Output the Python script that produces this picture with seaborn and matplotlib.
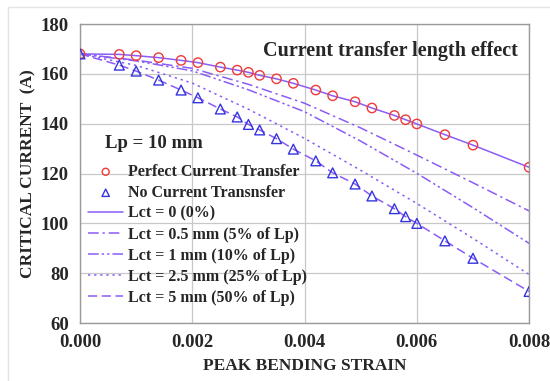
import matplotlib
matplotlib.use("Agg")
import matplotlib.pyplot as plt
import seaborn as sns
import numpy as np
from matplotlib.patches import Rectangle

# measured points (markers)
strain_pts = [0.0, 0.0007, 0.001, 0.0014, 0.0018, 0.0021, 0.0025, 0.0028, 0.003, 0.0032, 0.0035,
              0.0038, 0.0042, 0.0045, 0.0049, 0.0052, 0.0056, 0.0058, 0.006, 0.0065, 0.007, 0.008]
perfect = [168.0, 167.8, 167.3, 166.5, 165.4, 164.5, 162.7, 161.5, 160.6, 159.4, 158.0,
           156.2, 153.5, 151.2, 148.8, 146.3, 143.3, 141.6, 139.9, 135.6, 131.4, 122.5]
no_transfer = [168.0, 163.5, 161.1, 157.5, 153.5, 150.4, 145.9, 142.7, 139.7, 137.5, 134.0,
               129.8, 125.1, 120.3, 115.8, 111.0, 105.9, 102.7, 100.0, 93.0, 86.0, 72.7]

# model curves for intermediate transfer lengths
strain_grid = [0.0, 0.001, 0.002, 0.003, 0.004, 0.005, 0.006, 0.007, 0.008]
lct_05 = [168.0, 165.5, 162.2, 155.8, 148.2, 138.3, 127.4, 116.3, 105.0]
lct_1 = [168.0, 165.2, 161.2, 153.6, 144.8, 133.0, 120.1, 106.3, 92.0]
lct_25 = [168.0, 163.4, 156.3, 145.8, 134.1, 121.3, 108.0, 94.0, 79.5]

labels = ["Lct = 0 (0%)", "Lct = 0.5 mm (5% of Lp)", "Lct = 1 mm (10% of Lp)",
          "Lct = 2.5 mm (25% of Lp)", "Lct = 5 mm (50% of Lp)"]

sns.set_style("white")
plt.rcParams['font.family'] = ['Liberation Serif', 'DejaVu Serif']
plt.rcParams['font.weight'] = 'bold'

line_c = '#8b5cf6'
fig = plt.figure(figsize=(5.5, 3.81), dpi=100)
ax = fig.add_axes([0.1455, 0.152, 0.8165, 0.785])

# lines
sns.lineplot(x=strain_pts, y=perfect, ax=ax, color=line_c, lw=1.1, linestyle='-', label=labels[0])
sns.lineplot(x=strain_grid, y=lct_05, ax=ax, color=line_c, lw=1.1,
             linestyle=(0, (7, 2.5, 1.5, 2.5)), label=labels[1])
sns.lineplot(x=strain_grid, y=lct_1, ax=ax, color=line_c, lw=1.1,
             linestyle=(0, (7, 2, 1.5, 2, 1.5, 2)), label=labels[2])
sns.lineplot(x=strain_grid, y=lct_25, ax=ax, color=line_c, lw=1.1,
             linestyle=(0, (1.5, 2.5)), label=labels[3])
sns.lineplot(x=strain_pts, y=no_transfer, ax=ax, color=line_c, lw=1.1,
             linestyle=(0, (6, 3)), label=labels[4])

# markers
sns.scatterplot(x=strain_pts, y=perfect, ax=ax, marker='o', s=45, facecolor='none',
                edgecolor='#f03a3a', linewidth=1.0, label='Perfect Current Transfer', zorder=5)
sns.scatterplot(x=strain_pts, y=no_transfer, ax=ax, marker='^', s=50, facecolor='none',
                edgecolor='#3535e0', linewidth=1.0, label='No Current Transnsfer', zorder=5)

ax.set_xlim(0, 0.008)
ax.set_ylim(60, 180)
ax.set_xticks(np.arange(0, 0.0081, 0.002))
ax.set_yticks(np.arange(60, 181, 20))
ax.xaxis.set_major_formatter(matplotlib.ticker.FormatStrFormatter('%.3f'))
ax.grid(True, color='#c8c8c8', lw=0.9)
for s in ax.spines.values():
    s.set_color('#9a9a9a')
    s.set_linewidth(1.0)
ax.tick_params(axis='both', direction='out', length=5, color='#9a9a9a', width=1,
               labelsize=13.5, pad=3)
for t in ax.get_xticklabels() + ax.get_yticklabels():
    t.set_fontweight('bold')

ax.set_xlabel('PEAK BENDING STRAIN', fontsize=12.5, fontweight='bold', labelpad=5)
ax.set_ylabel('CRITICAL CURRENT  (A)', fontsize=12.5, fontweight='bold', labelpad=3)

ax.text(0.975, 0.91, 'Current transfer length effect', transform=ax.transAxes,
        ha='right', va='center', fontsize=14.5, fontweight='bold')

# legend header
ax.text(0.056, 0.599, 'Lp = 10 mm', transform=ax.transAxes, ha='left', va='center',
        fontsize=13.5, fontweight='bold')

handles, labs = ax.get_legend_handles_labels()
order = [labs.index('Perfect Current Transfer'), labs.index('No Current Transnsfer')] + \
        [labs.index(l) for l in labels]
leg = ax.legend([handles[i] for i in order], [labs[i] for i in order],
                loc='upper left', bbox_to_anchor=(0.018, 0.532), frameon=False,
                prop={'weight': 'bold', 'size': 11.5}, handlelength=2.2, handletextpad=0.3,
                labelspacing=0.31, markerscale=0.75, borderaxespad=0, borderpad=0)

fig.patches.append(Rectangle((8 / 550, -0.01), 1.0, 1 - 7 / 381 + 0.01, transform=fig.transFigure,
                             fill=False, edgecolor='#e4e4e4', lw=1.0))

fig.savefig('out.png', dpi=100)
